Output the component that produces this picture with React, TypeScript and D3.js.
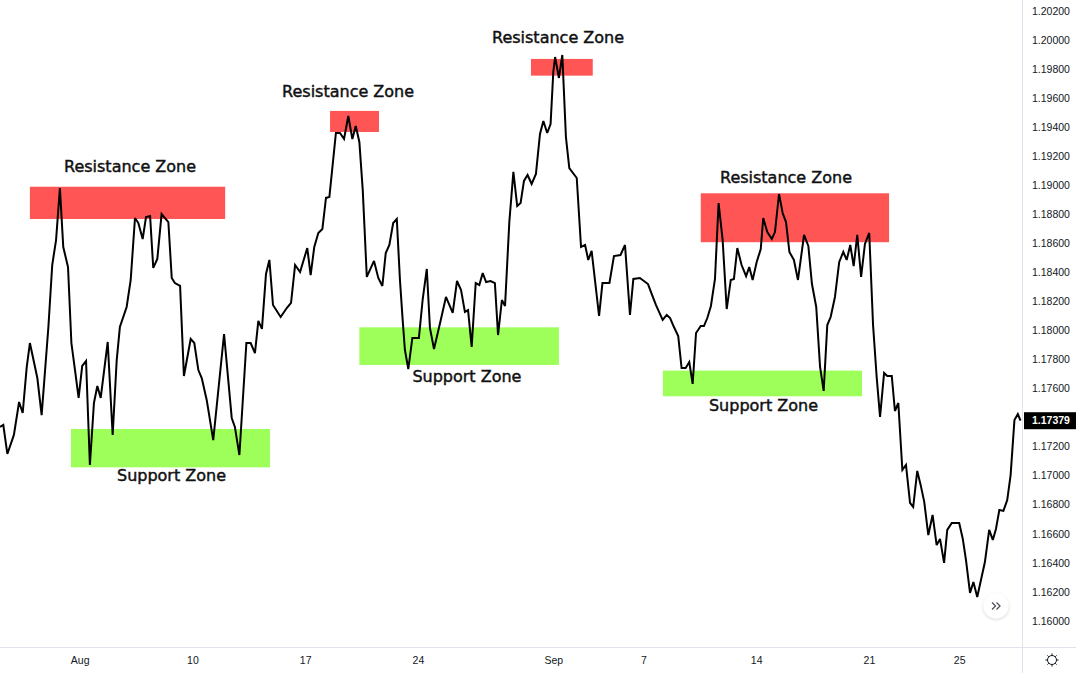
import { useEffect, useRef } from "react";
import * as d3 from "d3";

// time axis: trading days counted from Mon 3 Aug (weekends skipped), 4H closes
const dayOffsets = [
  -3.56, -3.41, -3.23, -2.94, -2.71, -2.55, -2.37, -2.23, -1.90, -1.71,
  -1.41, -1.24, -1.07, -0.90, -0.75, -0.54, -0.39, -0.23, -0.07, 0.09,
  0.26, 0.43, 0.61, 0.76, 0.91, 1.22, 1.44, 1.62, 1.76, 2.06,
  2.24, 2.43, 2.58, 2.77, 2.92, 3.10, 3.24, 3.42, 3.61, 3.91,
  4.06, 4.20, 4.43, 4.60, 4.90, 5.06, 5.24, 5.39, 5.61, 5.90,
  6.38, 6.72, 6.86, 7.06, 7.37, 7.56, 7.75, 7.90, 8.06, 8.24,
  8.39, 8.55, 8.89, 9.16, 9.35, 9.53, 9.75, 10.07, 10.22, 10.38,
  10.56, 10.74, 10.90, 11.05, 11.34, 11.52, 11.70, 11.89, 12.07, 12.22,
  12.38, 12.53, 12.71, 13.03, 13.22, 13.40, 13.55, 13.71, 13.88, 14.04,
  14.18, 14.30, 14.40, 14.55, 14.73, 15.02, 15.19, 15.37, 15.51, 15.69,
  15.99, 16.22, 16.52, 16.71, 16.89, 17.06, 17.20, 17.36, 17.54, 17.70,
  17.85, 18.00, 18.20, 18.39, 18.53, 18.70, 18.84, 19.03, 19.21, 19.38,
  19.53, 19.68, 19.84, 20.02, 20.21, 20.39, 20.54, 20.71, 20.86, 20.98,
  21.06, 21.23, 21.38, 21.54, 21.69, 22.02, 22.21, 22.39, 22.53, 22.68,
  23.01, 23.16, 23.47, 23.67, 23.96, 24.16, 24.38, 24.53, 24.82, 25.18,
  25.36, 25.53, 25.83, 26.01, 26.16, 26.33, 26.52, 26.67, 26.85, 27.01,
  27.16, 27.31, 27.52, 27.66, 27.81, 27.97, 28.15, 28.31, 28.49, 28.67,
  28.85, 28.99, 29.14, 29.33, 29.53, 29.67, 29.82, 30.00, 30.18, 30.29,
  30.47, 30.67, 30.81, 30.99, 31.15, 31.30, 31.45, 31.65, 31.83, 32.10,
  32.29, 32.45, 32.64, 32.81, 32.97, 33.13, 33.28, 33.47, 33.66, 33.84,
  33.99, 34.15, 34.30, 34.46, 34.63, 34.80, 34.99, 35.16, 35.32, 35.47,
  35.65, 35.79, 35.99, 36.13, 36.28, 36.46, 36.62, 36.80, 36.94, 37.12,
  37.27, 37.43, 37.61, 37.80, 37.98, 38.13, 38.31, 38.45, 38.65, 38.98,
  39.14, 39.28, 39.46, 39.61, 39.78, 40.12, 40.31, 40.47, 40.61, 40.76,
  40.94, 41.11, 41.26, 41.43, 41.58, 41.70,
];

const closes = [
  1.17336, 1.17350, 1.17150, 1.17281, 1.17508, 1.17432, 1.17749, 1.17914, 1.17673, 1.17418,
  1.18024, 1.18451, 1.18623, 1.18981, 1.18575, 1.18437, 1.17914, 1.17728, 1.17536, 1.17756,
  1.17790, 1.17074, 1.17501, 1.17618, 1.17536, 1.17921, 1.17281, 1.17797, 1.18024, 1.18162,
  1.18348, 1.18775, 1.18740, 1.18630, 1.18782, 1.18789, 1.18431, 1.18493, 1.18802, 1.18747,
  1.18362, 1.18327, 1.18307, 1.17687, 1.17942, 1.17914, 1.17728, 1.17673, 1.17522, 1.17246,
  1.17976, 1.17398, 1.17336, 1.17143, 1.17914, 1.17914, 1.17845, 1.18066, 1.18011, 1.18389,
  1.18486, 1.18176, 1.18093, 1.18155, 1.18190, 1.18451, 1.18403, 1.18568, 1.18382, 1.18575,
  1.18672, 1.18699, 1.18913, 1.18919, 1.19360, 1.19360, 1.19319, 1.19477, 1.19319, 1.19408,
  1.19298, 1.18968, 1.18369, 1.18479, 1.18362, 1.18307, 1.18534, 1.18589, 1.18740, 1.18768,
  1.18348, 1.18073, 1.17866, 1.17735, 1.17949, 1.17949, 1.18217, 1.18424, 1.18018, 1.17873,
  1.18073, 1.18231, 1.18121, 1.18341, 1.18279, 1.18128, 1.18141, 1.17887, 1.18327, 1.18314,
  1.18396, 1.18334, 1.18341, 1.18327, 1.17969, 1.18210, 1.18169, 1.18747, 1.19092, 1.18857,
  1.18878, 1.19030, 1.19071, 1.19009, 1.19078, 1.19353, 1.19443, 1.19360, 1.19422, 1.19780,
  1.19883, 1.19739, 1.19897, 1.19332, 1.19119, 1.19050, 1.18575, 1.18589, 1.18486, 1.18548,
  1.18100, 1.18327, 1.18327, 1.18513, 1.18520, 1.18589, 1.18107, 1.18355, 1.18362, 1.18320,
  1.18245, 1.18176, 1.18073, 1.18107, 1.18086, 1.18024, 1.17962, 1.17742, 1.17742, 1.17783,
  1.17632, 1.17983, 1.18031, 1.18031, 1.18086, 1.18169, 1.18355, 1.18878, 1.18623, 1.18148,
  1.18348, 1.18355, 1.18568, 1.18451, 1.18375, 1.18437, 1.18348, 1.18472, 1.18561, 1.18775,
  1.18678, 1.18630, 1.18678, 1.18940, 1.18809, 1.18747, 1.18541, 1.18486, 1.18348, 1.18658,
  1.18582, 1.18320, 1.18162, 1.17749, 1.17584, 1.18038, 1.18093, 1.18231, 1.18472, 1.18541,
  1.18486, 1.18589, 1.18444, 1.18658, 1.18369, 1.18596, 1.18672, 1.18038, 1.17680, 1.17405,
  1.17708, 1.17687, 1.17687, 1.17446, 1.17501, 1.17040, 1.17074, 1.16813, 1.16785, 1.17033,
  1.16937, 1.16820, 1.16592, 1.16730, 1.16523, 1.16565, 1.16400, 1.16627, 1.16675, 1.16675,
  1.16565, 1.16420, 1.16193, 1.16269, 1.16165, 1.16406, 1.16627, 1.16558, 1.16634, 1.16764,
  1.16758, 1.16833, 1.17005, 1.17384, 1.17425, 1.17379,
];

const lastPrice = 1.17379;

const tickDays = [0, 5, 10, 15, 21, 25, 30, 35, 39];
const tickLabels = ["Aug", "10", "17", "24", "Sep", "7", "14", "21", "25"];

const priceTicks = [
  1.160, 1.162, 1.164, 1.166, 1.168, 1.170, 1.172, 1.174, 1.176, 1.178, 1.180,
  1.182, 1.184, 1.186, 1.188, 1.190, 1.192, 1.194, 1.196, 1.198, 1.200, 1.202,
];

// zones
const zoneKind = ["resistance", "support", "resistance", "support", "resistance", "resistance", "support"];
const zoneStart = [-2.23, -0.41, 11.08, 12.38, 19.99, 27.52, 25.84];
const zoneEnd = [6.43, 8.42, 13.25, 21.23, 22.73, 35.87, 34.67];
const zoneHigh = [1.18990, 1.17322, 1.19512, 1.18022, 1.19870, 1.18945, 1.17724];
const zoneLow = [1.18768, 1.17058, 1.19367, 1.17763, 1.19755, 1.18608, 1.17547];

// annotation text, anchored at (day, price) of the text baseline centre
const noteText = ["Resistance Zone", "Resistance Zone", "Resistance Zone", "Resistance Zone", "Support Zone", "Support Zone", "Support Zone"];
const noteDay = [2.21, 11.88, 21.19, 31.30, 4.05, 17.15, 30.30];
const notePrice = [1.19092, 1.19608, 1.19980, 1.19016, 1.16964, 1.17646, 1.17446];

export default function App() {
  const svgRef = useRef<SVGSVGElement>(null);

  useEffect(() => {
    if (!svgRef.current) return;
    const svg = d3.select(svgRef.current);
    svg.selectAll("*").remove();

    const W = 1076;
    const H = 673;
    const plotRight = 1022.5;
    const plotBottom = 647.5;

    const x = d3.scaleLinear().domain([-3.556, 41.765]).range([0, 1022]);
    const y = d3.scaleLinear().domain([1.16, 1.202]).range([621, 11]);

    svg.append("rect").attr("width", W).attr("height", H).attr("fill", "#ffffff");

    const defs = svg.append("defs");
    defs.append("clipPath").attr("id", "plot")
      .append("rect").attr("x", 0).attr("y", 0).attr("width", plotRight).attr("height", plotBottom);
    const shadow = defs.append("filter").attr("id", "btnShadow").attr("x", "-50%").attr("y", "-50%").attr("width", "200%").attr("height", "200%");
    shadow.append("feDropShadow").attr("dx", 0).attr("dy", 1).attr("stdDeviation", 1.5).attr("flood-color", "#000").attr("flood-opacity", 0.18);

    const plot = svg.append("g").attr("clip-path", "url(#plot)");

    // zones
    zoneKind.forEach((k, i) => {
      plot.append("rect")
        .attr("x", x(zoneStart[i]))
        .attr("y", y(zoneHigh[i]))
        .attr("width", x(zoneEnd[i]) - x(zoneStart[i]))
        .attr("height", y(zoneLow[i]) - y(zoneHigh[i]))
        .attr("fill", k === "resistance" ? "#ff5555" : "#9eff5a");
    });

    // price line
    const pts = dayOffsets.map((d, i) => [d, closes[i]] as [number, number]);
    const line = d3.line<[number, number]>()
      .x(d => x(d[0]))
      .y(d => y(d[1]));
    plot.append("path")
      .datum(pts)
      .attr("fill", "none")
      .attr("stroke", "#000000")
      .attr("stroke-width", 2)
      .attr("stroke-linejoin", "miter")
      .attr("stroke-miterlimit", 3)
      .attr("d", line);

    // zone notes
    noteText.forEach((t, i) => {
      plot.append("text")
        .attr("x", x(noteDay[i]))
        .attr("y", y(notePrice[i]))
        .attr("text-anchor", "middle")
        .attr("font-family", "DejaVu Sans, sans-serif")
        .attr("font-size", 16)
        .attr("fill", "#111111")
        .attr("stroke", "#111111")
        .attr("stroke-width", 0.45)
        .text(t);
    });

    // axis frame
    svg.append("line")
      .attr("x1", plotRight).attr("x2", plotRight).attr("y1", 0).attr("y2", H)
      .attr("stroke", "#e0e3eb").attr("stroke-width", 1);
    svg.append("line")
      .attr("x1", 0).attr("x2", W).attr("y1", plotBottom).attr("y2", plotBottom)
      .attr("stroke", "#e0e3eb").attr("stroke-width", 1);

    // price scale
    const labelFont = "Liberation Sans, Arial, sans-serif";
    priceTicks
      .filter(p => Math.abs(y(p) - y(lastPrice)) > 12)
      .forEach(p => {
        svg.append("text")
          .attr("x", 1032)
          .attr("y", y(p))
          .attr("dy", "0.35em")
          .attr("font-family", labelFont)
          .attr("font-size", 10.5)
          .attr("fill", "#131722")
          .text(d3.format(".5f")(p));
      });

    // last price tag
    svg.append("rect")
      .attr("x", 1024).attr("y", y(lastPrice) - 8.5)
      .attr("width", 52).attr("height", 17)
      .attr("fill", "#000000");
    svg.append("text")
      .attr("x", 1032)
      .attr("y", y(lastPrice))
      .attr("dy", "0.35em")
      .attr("font-family", labelFont)
      .attr("font-size", 10.5)
      .attr("font-weight", "bold")
      .attr("fill", "#ffffff")
      .text(d3.format(".5f")(lastPrice));

    // time scale
    tickDays.forEach((d, i) => {
      svg.append("text")
        .attr("x", x(d))
        .attr("y", 660)
        .attr("dy", "0.35em")
        .attr("text-anchor", "middle")
        .attr("font-family", labelFont)
        .attr("font-size", 10.5)
        .attr("fill", "#131722")
        .text(tickLabels[i]);
    });

    // scroll-to-end button
    const btn = svg.append("g").attr("transform", "translate(996,606)");
    btn.append("circle").attr("r", 12.5).attr("fill", "#ffffff").attr("filter", "url(#btnShadow)");
    btn.append("path")
      .attr("d", "M-4,-3.5 L-0.5,0 L-4,3.5 M0.5,-3.5 L4,0 L0.5,3.5")
      .attr("fill", "none").attr("stroke", "#50535e").attr("stroke-width", 1.3);

    // settings gear
    const gear = svg.append("g").attr("transform", "translate(1052,660)");
    gear.append("circle").attr("r", 4.5).attr("fill", "none").attr("stroke", "#131722").attr("stroke-width", 1);
    d3.range(8).forEach(k => {
      const a = (k * Math.PI) / 4;
      gear.append("line")
        .attr("x1", Math.cos(a) * 4.5).attr("y1", Math.sin(a) * 4.5)
        .attr("x2", Math.cos(a) * 6.5).attr("y2", Math.sin(a) * 6.5)
        .attr("stroke", "#131722").attr("stroke-width", 1);
    });
  }, []);

  return (
    <div style={{ position: "absolute", left: 0, top: 0, width: 1076, height: 673 }}>
      <svg ref={svgRef} width={1076} height={673} style={{ display: "block" }} />
    </div>
  );
}
